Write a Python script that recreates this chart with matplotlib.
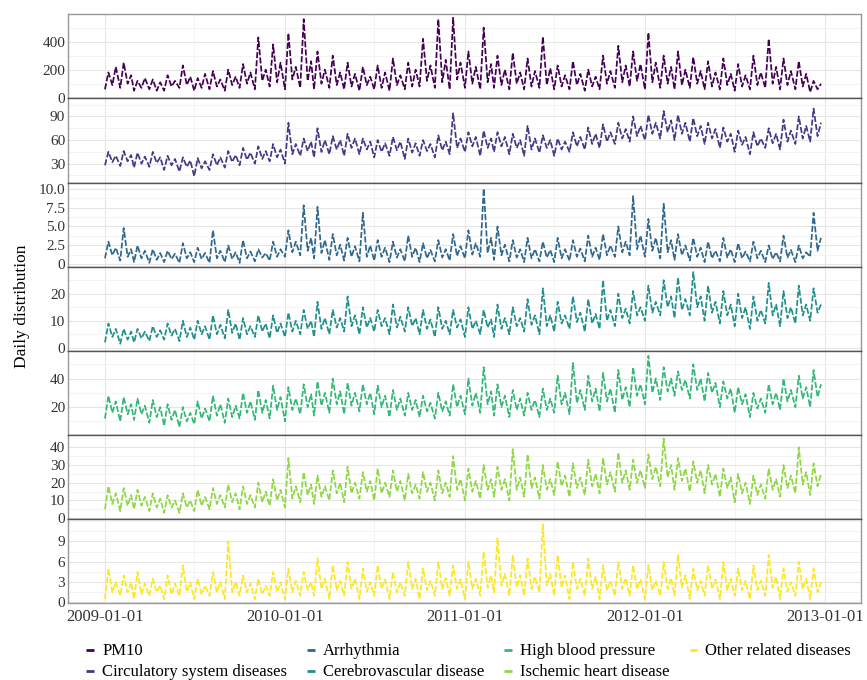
import matplotlib
matplotlib.use("Agg")
import matplotlib.pyplot as plt
import matplotlib.dates as mdates
from matplotlib.ticker import AutoMinorLocator
from matplotlib.lines import Line2D
import pandas as pd

plt.rcParams.update({"font.family": "Liberation Serif", "font.size": 12})

# roughly weekly sample dates, Jan 2009 - Dec 2012
months = pd.date_range("2009-01-01", periods=48, freq="MS")
dates = [d + pd.Timedelta(days=k) for d in months for k in (0, 7, 15, 22)]

# values, four per month (one row = one year)
pm10 = [60, 180, 90, 220, 70, 250, 100, 160, 50, 120, 70, 140, 60, 130, 50, 110, 50, 160, 80, 120, 70, 230, 90, 150,
        50, 140, 70, 170, 60, 190, 80, 130, 50, 200, 90, 150, 70, 240, 100, 180, 60, 430, 120, 200, 80, 380, 110, 250,
        60, 460, 130, 220, 70, 560, 120, 260, 60, 330, 100, 200, 70, 300, 90, 180, 60, 250, 80, 170, 50, 220, 90, 150,
        60, 230, 70, 180, 50, 280, 90, 160, 60, 250, 80, 200, 80, 420, 120, 230, 70, 560, 110, 270, 60, 570, 130, 250,
        70, 330, 100, 220, 60, 500, 110, 240, 70, 300, 90, 200, 60, 320, 100, 180, 60, 280, 80, 190, 70, 435, 90, 210,
        60, 230, 80, 160, 60, 260, 90, 170, 50, 200, 80, 150, 60, 300, 100, 190, 70, 370, 110, 230, 80, 330, 120, 240,
        60, 464, 110, 250, 70, 300, 100, 220, 60, 330, 90, 200, 70, 290, 100, 190, 60, 260, 80, 180, 60, 280, 90, 170,
        50, 240, 80, 160, 60, 300, 90, 180, 70, 420, 100, 220, 60, 280, 90, 190, 60, 260, 80, 170, 40, 120, 60, 100]
circ = [28, 45, 32, 40, 27, 46, 33, 41, 25, 44, 30, 39, 26, 45, 31, 38, 22, 40, 28, 36, 20, 38, 26, 34,
        14, 37, 24, 33, 22, 42, 28, 38, 25, 46, 32, 41, 28, 50, 35, 44, 30, 52, 36, 46, 33, 55, 38, 48,
        30, 82, 42, 55, 40, 62, 46, 58, 38, 75, 45, 60, 42, 65, 48, 60, 40, 68, 50, 62, 42, 62, 48, 58,
        38, 60, 45, 56, 40, 64, 47, 58, 36, 62, 44, 56, 40, 60, 46, 55, 38, 66, 47, 58, 42, 94, 50, 62,
        45, 70, 52, 64, 40, 72, 50, 62, 45, 70, 52, 64, 42, 68, 50, 60, 40, 78, 48, 62, 44, 66, 50, 60,
        40, 62, 48, 58, 45, 70, 52, 64, 48, 76, 55, 68, 50, 80, 58, 70, 55, 82, 62, 74, 58, 90, 65, 78,
        60, 92, 68, 82, 62, 97, 70, 85, 60, 92, 68, 82, 58, 88, 65, 78, 55, 82, 62, 74, 50, 76, 58, 68,
        45, 72, 54, 64, 42, 70, 52, 62, 50, 75, 56, 68, 48, 86, 58, 72, 55, 90, 62, 78, 58, 100, 65, 82]
arrh = [0.8, 3.0, 1.2, 2.2, 0.5, 4.8, 1.0, 2.0, 0.3, 2.5, 0.8, 1.8, 0.2, 2.0, 0.6, 1.5, 0.3, 1.8, 0.7, 1.4, 0.2, 2.8, 0.8, 1.6,
        0.3, 2.2, 0.7, 1.5, 0.2, 4.5, 0.8, 1.8, 0.3, 2.5, 0.7, 1.6, 0.2, 3.2, 0.8, 1.7, 0.4, 2.0, 0.9, 1.5, 0.5, 3.0, 1.0, 2.0,
        1.0, 4.5, 1.6, 3.0, 1.2, 7.8, 1.8, 3.5, 0.8, 7.6, 1.5, 3.2, 0.6, 4.0, 1.2, 2.6, 0.5, 3.5, 1.0, 2.4, 0.4, 6.8, 1.0, 2.5,
        0.5, 3.2, 1.0, 2.2, 0.3, 3.0, 0.9, 2.0, 0.4, 3.8, 1.0, 2.2, 0.3, 2.8, 0.8, 1.9, 0.4, 3.2, 0.9, 2.0, 0.5, 4.0, 1.1, 2.4,
        0.8, 4.5, 1.3, 2.8, 1.0, 10.0, 1.5, 3.5, 0.6, 5.0, 1.2, 2.6, 0.4, 3.2, 0.9, 2.0, 0.3, 3.5, 0.8, 2.0, 0.4, 3.0, 0.9, 1.9,
        0.3, 3.5, 0.8, 2.0, 0.5, 3.2, 1.0, 2.1, 0.4, 3.8, 1.0, 2.2, 0.6, 4.0, 1.2, 2.5, 1.0, 5.0, 1.6, 3.0, 1.2, 9.0, 2.0, 3.8,
        1.0, 6.0, 1.8, 3.5, 0.8, 8.0, 1.6, 3.2, 0.6, 4.0, 1.2, 2.5, 0.5, 3.5, 1.0, 2.2, 0.3, 3.0, 0.8, 1.8, 0.4, 3.5, 0.9, 2.0,
        0.3, 2.8, 0.8, 1.7, 0.4, 3.0, 0.8, 1.8, 0.3, 2.5, 0.7, 1.6, 0.4, 3.8, 0.9, 1.9, 0.3, 2.5, 0.8, 1.6, 1.0, 6.8, 1.8, 3.5]
cereb = [2, 9, 4, 7, 1.5, 7, 3, 6, 2, 7, 3.5, 6, 2.5, 8, 4, 6.5, 3, 9, 4.5, 7, 2.5, 10, 4, 7.5,
         3, 10, 5, 8, 3, 12, 5, 8.5, 3.5, 14, 5.5, 9, 3, 11, 5, 8, 4, 12, 6, 9, 3.5, 12, 5.5, 9,
         4, 13, 6, 10, 5, 14, 7, 10, 4, 17, 7, 11, 5, 14, 7.5, 11, 6, 19, 8, 12, 5, 15, 7.5, 11,
         6, 14, 8, 11, 5, 16, 7.5, 11.5, 6, 15, 8, 11, 5, 14, 7, 10.5, 4, 15, 7, 10, 5, 14, 7.5, 10.5,
         4, 15, 7, 10, 5, 14, 7.5, 10.5, 4, 16, 7, 11, 5, 15, 8, 11, 6, 18, 8.5, 12, 5, 22, 8, 12,
         6, 17, 9, 12, 7, 19, 9.5, 13, 6, 18, 9, 12.5, 7, 25, 10, 14, 8, 20, 11, 14.5, 9, 21, 12, 15,
         10, 23, 13, 17, 12, 25, 15, 19, 11, 26, 14, 18, 12, 28, 15, 19, 10, 23, 13, 17, 9, 21, 12, 16,
         8, 20, 11, 15, 7, 19, 10, 14, 9, 24, 12, 16, 8, 21, 11, 15, 9, 23, 12, 16, 10, 22, 13, 16]
hbp = [12, 28, 16, 24, 10, 27, 15, 22, 11, 26, 15, 21, 9, 25, 13, 20, 7, 22, 11, 18, 6, 20, 10, 16,
       8, 24, 12, 19, 10, 28, 14, 22, 9, 26, 13, 21, 12, 30, 16, 24, 11, 32, 16, 25, 12, 35, 18, 27,
       10, 34, 18, 26, 15, 36, 20, 29, 14, 38, 21, 30, 16, 40, 22, 31, 15, 37, 21, 30, 17, 36, 22, 30,
       15, 35, 20, 28, 13, 32, 18, 26, 14, 30, 18, 25, 13, 28, 17, 23, 12, 30, 17, 24, 14, 36, 20, 28,
       15, 40, 21, 30, 16, 48, 22, 31, 14, 36, 20, 28, 13, 32, 18, 26, 14, 30, 18, 25, 13, 33, 18, 26,
       16, 42, 22, 30, 15, 51, 23, 32, 18, 42, 24, 33, 17, 44, 24, 33, 16, 46, 25, 34, 20, 48, 28, 36,
       22, 56, 30, 40, 25, 48, 31, 40, 28, 45, 32, 39, 26, 50, 32, 40, 24, 44, 30, 37, 20, 38, 26, 33,
       16, 34, 22, 29, 13, 30, 19, 26, 16, 36, 22, 30, 18, 40, 24, 32, 20, 42, 26, 34, 20, 46, 27, 36]
isch = [5, 18, 8, 14, 4, 17, 7, 13, 5, 16, 7, 12, 4, 14, 6, 11, 3, 13, 6, 10, 3, 14, 6, 10,
        4, 16, 7, 12, 5, 17, 8, 13, 6, 19, 9, 14, 5, 18, 8, 13, 6, 20, 9, 15, 7, 22, 10, 16,
        6, 34, 11, 18, 9, 26, 13, 19, 8, 24, 12, 18, 10, 27, 14, 20, 9, 29, 14, 20, 11, 26, 15, 21,
        10, 28, 14, 20, 12, 27, 15, 21, 10, 25, 14, 19, 11, 26, 15, 20, 10, 27, 14, 20, 12, 35, 16, 22,
        10, 28, 15, 21, 11, 30, 16, 22, 12, 29, 16, 22, 10, 39, 16, 23, 12, 36, 17, 23, 11, 30, 16, 22,
        13, 32, 18, 24, 12, 31, 17, 23, 13, 33, 18, 25, 14, 34, 19, 26, 15, 37, 20, 27, 16, 33, 20, 27,
        17, 36, 22, 29, 18, 45, 23, 30, 16, 34, 21, 28, 15, 32, 20, 27, 14, 30, 19, 25, 12, 28, 17, 23,
        9, 25, 14, 20, 8, 24, 13, 19, 11, 28, 16, 22, 12, 30, 17, 24, 14, 40, 19, 26, 13, 31, 18, 25]
other = [0.5, 5, 1.5, 3, 1, 4, 1.5, 3, 0.5, 4.5, 1.2, 2.8, 1, 3.5, 1.5, 2.5, 0.5, 4, 1.2, 2.8, 1, 5.5, 1.6, 3,
         0.5, 3.5, 1.2, 2.5, 1, 4.5, 1.5, 3, 0.5, 9, 1.5, 3, 1, 4, 1.5, 2.8, 0.5, 3.5, 1.2, 2.5, 1, 4.5, 1.5, 3,
         0.5, 5, 1.5, 3.2, 1, 4.5, 1.8, 3, 1, 6.5, 2, 3.5, 0.5, 5.5, 1.8, 3.2, 1, 6, 2, 3.5, 0.5, 5, 1.6, 3,
         1, 5.5, 2, 3.4, 0.5, 4.5, 1.5, 3, 1, 6, 2, 3.5, 0.5, 5, 1.8, 3.2, 1, 6, 2, 3.6, 1, 5.5, 2, 3.4,
         0.5, 6, 2, 3.5, 1, 7.5, 2.2, 4, 1.5, 9.5, 2.5, 4.2, 1, 7, 2.2, 4, 1, 6.5, 2, 3.8, 1.5, 11.5, 2.5, 4.2,
         1, 7, 2.2, 4, 0.5, 6, 2, 3.5, 1, 6.5, 2, 3.8, 0.5, 5.5, 1.8, 3.2, 1, 6, 2, 3.6, 1, 5.5, 2, 3.4,
         0.5, 5.5, 1.8, 3.2, 1, 6, 2, 3.6, 1, 7, 2.2, 4, 0.5, 5, 1.8, 3.2, 1, 5.5, 2, 3.4, 0.5, 6, 1.8, 3.5,
         1, 5, 1.8, 3.2, 0.5, 5.5, 1.8, 3.2, 1, 7, 2.2, 3.8, 0.5, 5, 1.6, 3, 1, 6, 2, 3.5, 0.5, 5, 1.5, 3]

names = ["PM10", "Circulatory system diseases", "Arrhythmia", "Cerebrovascular disease",
         "High blood pressure", "Ischemic heart disease", "Other related diseases"]
series = [pm10, circ, arrh, cereb, hbp, isch, other]
colors = ["#440154", "#443A83", "#31688E", "#21908C", "#35B779", "#8FD744", "#FDE725"]
yticks = [[0, 200, 400], [30, 60, 90], [0, 2.5, 5.0, 7.5, 10.0], [0, 10, 20],
          [20, 40], [0, 10, 20, 30, 40], [0, 3, 6, 9]]
ytlabels = [["0", "200", "400"], ["30", "60", "90"], ["0", "2.5", "5.0", "7.5", "10.0"],
            ["0", "10", "20"], ["20", "40"], ["0", "10", "20", "30", "40"], ["0", "3", "6", "9"]]
ylims = [(-5, 595), (6, 113), (-0.3, 10.8), (-1.1, 30), (0.5, 59.5), (-0.5, 47), (-0.1, 12.3)]

fig = plt.figure(figsize=(8.67, 6.8), dpi=100)
gs = fig.add_gridspec(7, 1, left=0.0784, right=0.993, top=0.979, bottom=0.113, hspace=0)
axes = [fig.add_subplot(gs[i]) for i in range(7)]

for i, ax in enumerate(axes):
    ax.plot(dates, series[i], color=colors[i], lw=1.25, ls=(0, (3.5, 1.2)))
    ax.set_ylim(*ylims[i])
    ax.set_yticks(yticks[i])
    ax.set_yticklabels(ytlabels[i])
    ax.set_xlim(pd.Timestamp("2008-10-18"), pd.Timestamp("2013-03-14"))
    ax.xaxis.set_major_locator(mdates.YearLocator())
    ax.xaxis.set_minor_locator(mdates.MonthLocator(bymonth=7))
    ax.xaxis.set_major_formatter(mdates.DateFormatter("%Y-%m-%d"))
    ax.yaxis.set_minor_locator(AutoMinorLocator(2))
    ax.grid(which="major", color="#e6e6e6", lw=0.8)
    ax.grid(which="minor", color="#f2f2f2", lw=0.6)
    ax.set_axisbelow(True)
    ax.tick_params(which="both", length=0, pad=2, colors="#333333")
    ax.tick_params(axis="y", labelsize=11)
    for s in ["left", "right", "top", "bottom"]:
        ax.spines[s].set_color("#999999")
        ax.spines[s].set_linewidth(1.0)
    if i > 0:
        ax.spines["top"].set_color("#555555")
    if i < 6:
        ax.spines["bottom"].set_color("#555555")
        ax.tick_params(axis="x", labelbottom=False)

axes[-1].tick_params(axis="x", pad=4, labelsize=12)

fig.text(0.025, 1 - 306 / 680, "Daily distribution", rotation=90, ha="center", va="center", fontsize=12.5)

handles = [Line2D([], [], color=c, lw=2.0, solid_capstyle="butt") for c in colors]
fig.legend(handles=handles, labels=names, loc="upper left", bbox_to_anchor=(0.09, 0.066), ncol=4,
           frameon=False, borderpad=0, handlelength=0.45, handletextpad=0.5, columnspacing=1.2,
           labelspacing=0.3, fontsize=12)

fig.savefig("out.png", dpi=100)
